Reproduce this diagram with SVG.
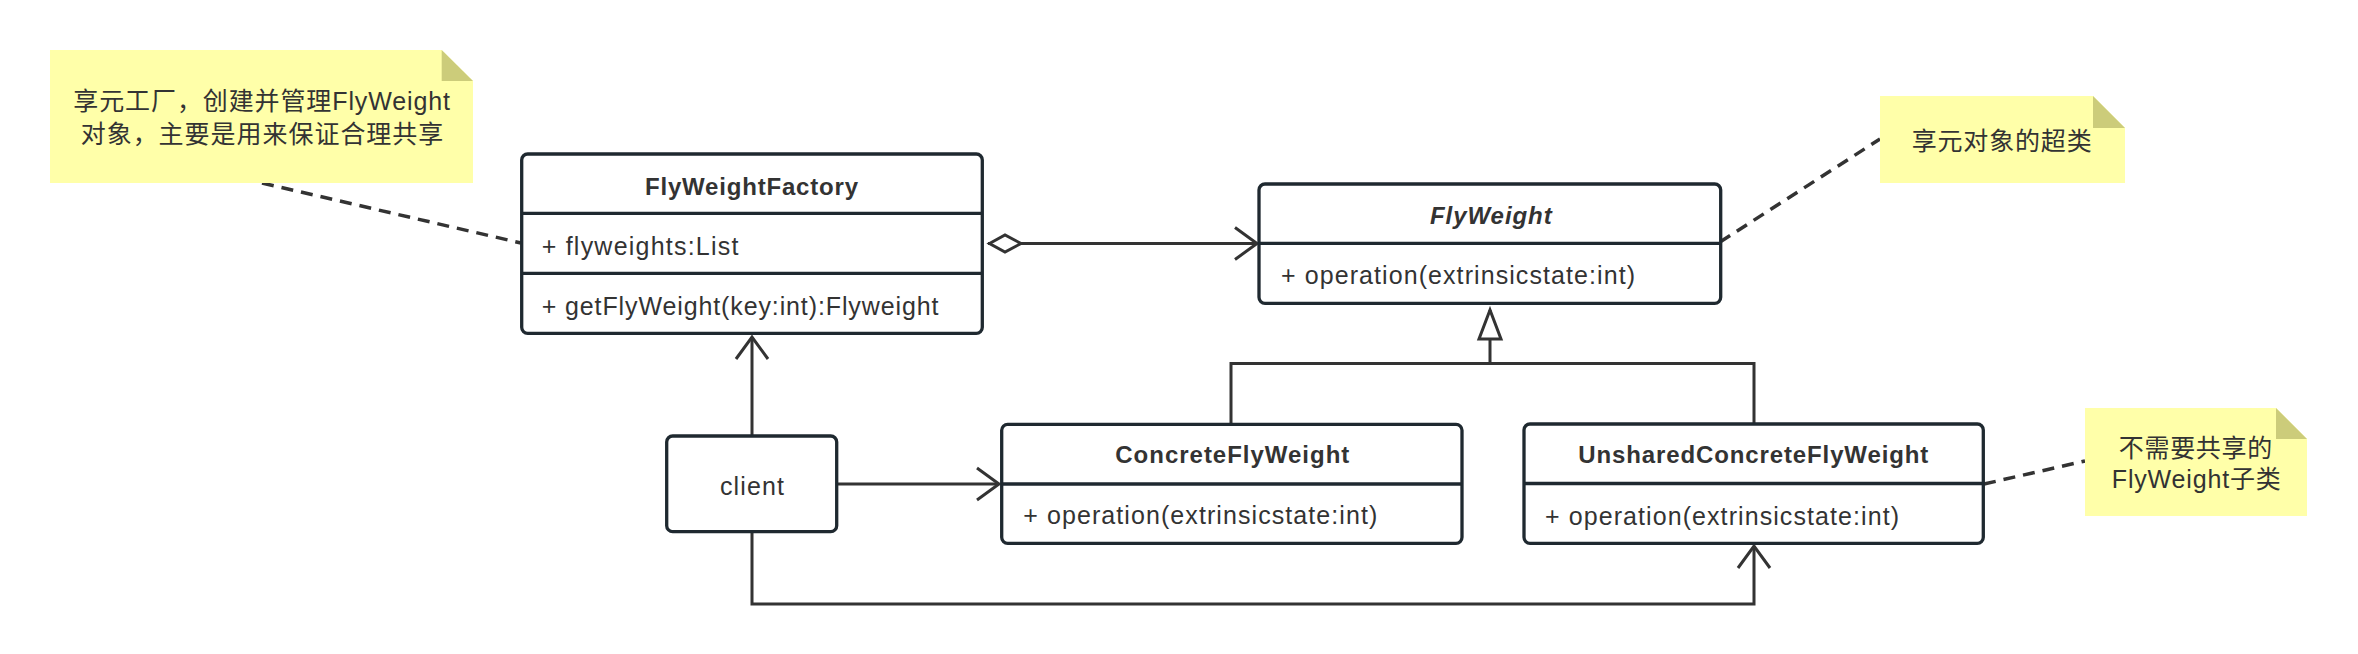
<svg xmlns="http://www.w3.org/2000/svg" width="2358" height="654" viewBox="0 0 2358 654">
  <style>
    text { font-family: "Liberation Sans", "Noto Sans CJK SC", sans-serif; font-size: 25px; fill: #333333; }
    .title { font-weight: bold; font-size: 24px; }
    .abstract { font-weight: bold; font-style: italic; font-size: 24px; }
    .box { fill: #ffffff; stroke: #1f2930; stroke-width: 3.3; }
    .div { stroke: #1f2930; stroke-width: 3.3; fill: none; }
    .note { fill: #ffffa9; }
    .fold { fill: #cccc7a; }
    .conn { fill: none; stroke: #333333; stroke-width: 3; }
    .dash { fill: none; stroke: #333333; stroke-width: 3.5; stroke-dasharray: 12 8; }
  </style>
  <defs>
    <marker id="open" markerUnits="userSpaceOnUse" markerWidth="32" markerHeight="40" viewBox="-28 -20 32 40" refX="0" refY="0" orient="auto" overflow="visible">
      <path d="M-22,-16 L0,0 L-22,16" fill="none" stroke="#333333" stroke-width="3"/>
    </marker>
    <marker id="tri" markerUnits="userSpaceOnUse" markerWidth="40" markerHeight="30" viewBox="-34 -15 40 30" refX="0" refY="0" orient="auto" overflow="visible">
      <path d="M0,0 L-29,-11 L-29,11 Z" fill="#ffffff" stroke="#333333" stroke-width="3"/>
    </marker>
    <marker id="diamond" markerUnits="userSpaceOnUse" markerWidth="40" markerHeight="24" viewBox="-4 -12 40 24" refX="0" refY="0" orient="auto" overflow="visible">
      <path d="M1.5,0 L17,-8.5 L33,0 L17,8.5 Z" fill="#ffffff" stroke="#333333" stroke-width="3"/>
    </marker>
  </defs>

  <g id="connectors">
    <path class="conn" d="M988,243.5 L1257,243.5" marker-start="url(#diamond)" marker-end="url(#open)"/>
    <path class="conn" d="M752,436 L752,337" marker-end="url(#open)"/>
    <path class="conn" d="M837,484 L999,484" marker-end="url(#open)"/>
    <path class="conn" d="M752,532 L752,604 L1754,604 L1754,546" marker-end="url(#open)"/>
    <path class="conn" d="M1231,424 L1231,363.5 L1754,363.5 L1754,424"/>
    <path class="conn" d="M1490,363.5 L1490,310" marker-end="url(#tri)"/>
    <path class="dash" d="M262,183 L521,243"/>
    <path class="dash" d="M1720,242 L1880,139"/>
    <path class="dash" d="M1984,484 L2085,461"/>
  </g>

  <g id="note-factory">
    <path class="note" d="M50,50 L441.7,50 L473,81 L473,183 L50,183 Z"/>
    <path class="fold" d="M441.7,50 L441.7,81 L473,81 Z"/>
    <text x="73.3" y="110" textLength="376.7" lengthAdjust="spacing">享元工厂，创建并管理FlyWeight</text>
    <text x="80.7" y="142.5" textLength="362.6" lengthAdjust="spacing">对象，主要是用来保证合理共享</text>
  </g>

  <g id="note-flyweight">
    <path class="note" d="M1880,96 L2093,96 L2125,128 L2125,183 L1880,183 Z"/>
    <path class="fold" d="M2093,96 L2093,128 L2125,128 Z"/>
    <text x="1911.7" y="149.5" textLength="180" lengthAdjust="spacing">享元对象的超类</text>
  </g>

  <g id="note-unshared">
    <path class="note" d="M2085,408 L2276,408 L2307,439 L2307,516 L2085,516 Z"/>
    <path class="fold" d="M2276,408 L2276,439 L2307,439 Z"/>
    <text x="2118.8" y="456.5" textLength="153.4" lengthAdjust="spacing">不需要共享的</text>
    <text x="2111.8" y="487.5" textLength="169" lengthAdjust="spacing">FlyWeight子类</text>
  </g>

  <g id="FlyWeightFactory">
    <rect class="box" x="521.7" y="154" width="460.6" height="179.3" rx="6"/>
    <line class="div" x1="521.7" y1="213.3" x2="982.3" y2="213.3"/>
    <line class="div" x1="521.7" y1="273.3" x2="982.3" y2="273.3"/>
    <text class="title" x="645" y="195" textLength="213" lengthAdjust="spacing">FlyWeightFactory</text>
    <text x="541.7" y="255" textLength="196.7" lengthAdjust="spacing">+ flyweights:List</text>
    <text x="541.7" y="315" textLength="396.7" lengthAdjust="spacing">+ getFlyWeight(key:int):Flyweight</text>
  </g>

  <g id="FlyWeight">
    <rect class="box" x="1259" y="184" width="461.7" height="119.3" rx="6"/>
    <line class="div" x1="1259" y1="243.3" x2="1720.7" y2="243.3"/>
    <text class="abstract" x="1430" y="224.3" textLength="121.7" lengthAdjust="spacing">FlyWeight</text>
    <text x="1281" y="284" textLength="354" lengthAdjust="spacing">+ operation(extrinsicstate:int)</text>
  </g>

  <g id="client">
    <rect class="box" x="666.7" y="436" width="170" height="95.7" rx="6"/>
    <text x="720" y="495" textLength="64" lengthAdjust="spacing">client</text>
  </g>

  <g id="ConcreteFlyWeight">
    <rect class="box" x="1001.7" y="424.3" width="460.3" height="119" rx="6"/>
    <line class="div" x1="1001.7" y1="484" x2="1462" y2="484"/>
    <text class="title" x="1115.3" y="463" textLength="234" lengthAdjust="spacing">ConcreteFlyWeight</text>
    <text x="1023.3" y="524" textLength="354" lengthAdjust="spacing">+ operation(extrinsicstate:int)</text>
  </g>

  <g id="UnsharedConcreteFlyWeight">
    <rect class="box" x="1524" y="424" width="459.3" height="119.3" rx="6"/>
    <line class="div" x1="1524" y1="483.5" x2="1983.3" y2="483.5"/>
    <text class="title" x="1578.3" y="463.3" textLength="350" lengthAdjust="spacing">UnsharedConcreteFlyWeight</text>
    <text x="1545" y="525" textLength="354" lengthAdjust="spacing">+ operation(extrinsicstate:int)</text>
  </g>
</svg>
